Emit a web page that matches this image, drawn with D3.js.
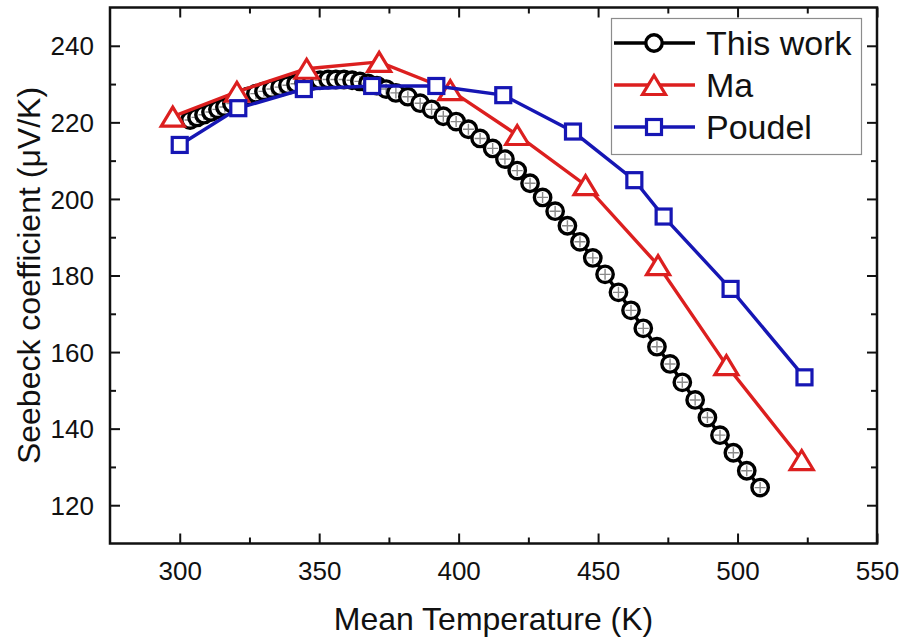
<!DOCTYPE html>
<html>
<head>
<meta charset="utf-8">
<script src="https://cdn.jsdelivr.net/npm/d3@7"></script>
<style>
  body { margin: 0; background: #fff; }
  svg { display: block; font-family: "Liberation Sans", Arial, sans-serif; }
</style>
</head>
<body>
<svg id="chart" width="906" height="643"></svg>
<script>
// this work: mean temperature (K) and Seebeck coefficient (uV/K)
const thisWorkT = [303.7, 306.2, 308.7, 311.2, 313.7, 316.2, 318.7, 321.6, 324.5, 327.3,
  330.2, 333.1, 336.0, 338.8, 341.7, 344.6, 347.4, 350.3, 353.2, 356.0,
  358.9, 361.8, 364.6, 367.5, 370.7, 374.0, 377.5, 381.8, 386.2, 390.3,
  394.5, 399.1, 403.5, 407.7, 412.2, 416.6, 421.0, 425.6, 430.1, 434.6,
  439.0, 443.5, 448.1, 452.5, 457.3, 461.8, 466.2, 471.1, 475.8, 480.2,
  484.8, 489.2, 493.7, 498.5, 503.3, 508.1];
const thisWorkS = [220.6, 221.3, 222.0, 222.7, 223.4, 224.0, 224.9, 226.0, 226.8, 227.5,
  228.1, 228.7, 229.2, 229.7, 230.1, 230.5, 230.8, 231.0, 231.2, 231.2,
  231.2, 231.0, 230.7, 230.2, 229.6, 228.7, 227.7, 226.7, 225.0, 223.4,
  221.6, 220.2, 218.2, 215.8, 213.2, 210.4, 207.4, 204.1, 200.4, 196.8,
  193.0, 188.8, 184.6, 180.3, 175.6, 170.9, 166.2, 161.4, 156.9, 152.1,
  147.5, 142.9, 138.3, 133.7, 129.0, 124.6];

const maT = [297.5, 320.5, 345.5, 371.5, 397, 421, 445.5, 471.5, 496, 523];
const maS = [221.5, 228, 234, 235.8, 228.4, 216.7, 203.6, 182.7, 156.6, 131.8];

const poudelT = [300, 321, 344.5, 369, 392, 416, 441, 463, 473.5, 497.5, 524];
const poudelS = [214.1, 223.7, 228.7, 229.5, 229.5, 227.1, 217.6, 204.9, 195.4, 176.5, 153.4];

const xTicks = [300, 350, 400, 450, 500, 550];
const xMinor = [325, 375, 425, 475, 525];
const yTicks = [120, 140, 160, 180, 200, 220, 240];
const yMinor = [130, 150, 170, 190, 210, 230];

const legendNames = ["This work", "Ma", "Poudel"];

const red = "#dc1f1f";
const blue = "#1616b4";

const svg = d3.select("#chart");
const plotL = 110, plotR = 877, plotT = 7.5, plotB = 543.5;

const x = d3.scaleLinear().domain([275, 550]).range([plotL, plotR]);
const y = d3.scaleLinear().domain([110, 250]).range([plotB, plotT]);

const zip = (a, b) => a.map((v, i) => [v, b[i]]);
const line = d3.line().x((d) => x(d[0])).y((d) => y(d[1]));

// axes, ticks pointing inwards on all four sides
const addAxis = (axis, tr, vals, size, fmt) => {
  const g = svg.append("g")
    .attr("transform", tr)
    .call(axis.tickValues(vals).tickSizeInner(-size).tickSizeOuter(0).tickPadding(0).tickFormat(fmt));
  g.select(".domain").remove();
  g.selectAll(".tick line").attr("stroke", "#111").attr("stroke-width", 2);
  return g;
};

const gx = addAxis(d3.axisBottom(x), `translate(0,${plotB})`, xTicks, 10, d3.format("d"));
gx.selectAll("text").attr("y", 36).attr("dy", 0).attr("font-size", 26).attr("fill", "#111");
addAxis(d3.axisBottom(x), `translate(0,${plotB})`, xMinor, 6, "");
addAxis(d3.axisTop(x), `translate(0,${plotT})`, xTicks, 10, "");
addAxis(d3.axisTop(x), `translate(0,${plotT})`, xMinor, 6, "");

const gy = addAxis(d3.axisLeft(y), `translate(${plotL},0)`, yTicks, 10, d3.format("d"));
gy.selectAll("text").attr("x", -16).attr("dy", "0.35em").attr("font-size", 26).attr("fill", "#111");
addAxis(d3.axisLeft(y), `translate(${plotL},0)`, yMinor, 6, "");
addAxis(d3.axisRight(y), `translate(${plotR},0)`, yTicks, 10, "");
addAxis(d3.axisRight(y), `translate(${plotR},0)`, yMinor, 6, "");

svg.append("rect")
  .attr("x", plotL).attr("y", plotT)
  .attr("width", plotR - plotL).attr("height", plotB - plotT)
  .attr("fill", "none").attr("stroke", "#111").attr("stroke-width", 2.5);

svg.append("text")
  .attr("x", (plotL + plotR) / 2).attr("y", 630)
  .attr("text-anchor", "middle").attr("font-size", 32).attr("fill", "#111")
  .text("Mean Temperature (K)");

svg.append("text")
  .attr("transform", `translate(40,${(plotT + plotB) / 2}) rotate(-90)`)
  .attr("text-anchor", "middle").attr("font-size", 32).attr("fill", "#111")
  .text("Seebeck coefficient (μV/K)");

// marker shapes
const triPath = (w, h) => `M0,${-h / 2}L${w / 2},${h / 2}L${-w / 2},${h / 2}Z`;
const drawCircle = (g, cx, cy) => {
  g.append("circle").attr("cx", cx).attr("cy", cy).attr("r", 8.2)
    .attr("fill", "#fff").attr("stroke", "#000").attr("stroke-width", 3.4);
};
const drawCross = (g, cx, cy) => {
  g.append("path")
    .attr("d", `M${cx - 5.5},${cy}H${cx + 5.5}M${cx},${cy - 5.5}V${cy + 5.5}`)
    .attr("stroke", "#8a8a8a").attr("stroke-width", 1.4);
};
const drawTri = (g, cx, cy) => {
  g.append("path").attr("transform", `translate(${cx},${cy})`)
    .attr("d", triPath(23, 19))
    .attr("fill", "#fff").attr("stroke", red).attr("stroke-width", 3.2)
    .attr("stroke-linejoin", "miter");
};
const drawSq = (g, cx, cy) => {
  g.append("rect").attr("x", cx - 7.5).attr("y", cy - 7.5)
    .attr("width", 15).attr("height", 15)
    .attr("fill", "#fff").attr("stroke", blue).attr("stroke-width", 3.2);
};

// this work
const gThis = svg.append("g");
gThis.append("path").datum(zip(thisWorkT, thisWorkS)).attr("d", line)
  .attr("fill", "none").attr("stroke", "#000").attr("stroke-width", 3.4);
zip(thisWorkT, thisWorkS).forEach((d) => {
  drawCircle(gThis, x(d[0]), y(d[1]));
  drawCross(gThis, x(d[0]), y(d[1]));
});

// Ma
const gMa = svg.append("g");
gMa.append("path").datum(zip(maT, maS)).attr("d", line)
  .attr("fill", "none").attr("stroke", red).attr("stroke-width", 3.4);
zip(maT, maS).forEach((d) => drawTri(gMa, x(d[0]), y(d[1])));

// Poudel
const gPo = svg.append("g");
gPo.append("path").datum(zip(poudelT, poudelS)).attr("d", line)
  .attr("fill", "none").attr("stroke", blue).attr("stroke-width", 3.4);
zip(poudelT, poudelS).forEach((d) => drawSq(gPo, x(d[0]), y(d[1])));

// legend
const lg = svg.append("g");
lg.append("rect").attr("x", 611.5).attr("y", 18.5).attr("width", 250).attr("height", 136)
  .attr("fill", "#fff").attr("stroke", "#8c8c8c").attr("stroke-width", 1.2);
const legendColors = ["#000", red, blue];
const legendMarkers = [drawCircle, drawTri, drawSq];
legendNames.forEach((name, i) => {
  const cy = 43 + i * 42;
  lg.append("line").attr("x1", 614).attr("x2", 695).attr("y1", cy).attr("y2", cy)
    .attr("stroke", legendColors[i]).attr("stroke-width", 3.6);
  legendMarkers[i](lg, 654, cy);
  lg.append("text").attr("x", 706).attr("y", cy + 12)
    .attr("font-size", 34).attr("fill", "#111").text(name);
});
</script>
</body>
</html>
